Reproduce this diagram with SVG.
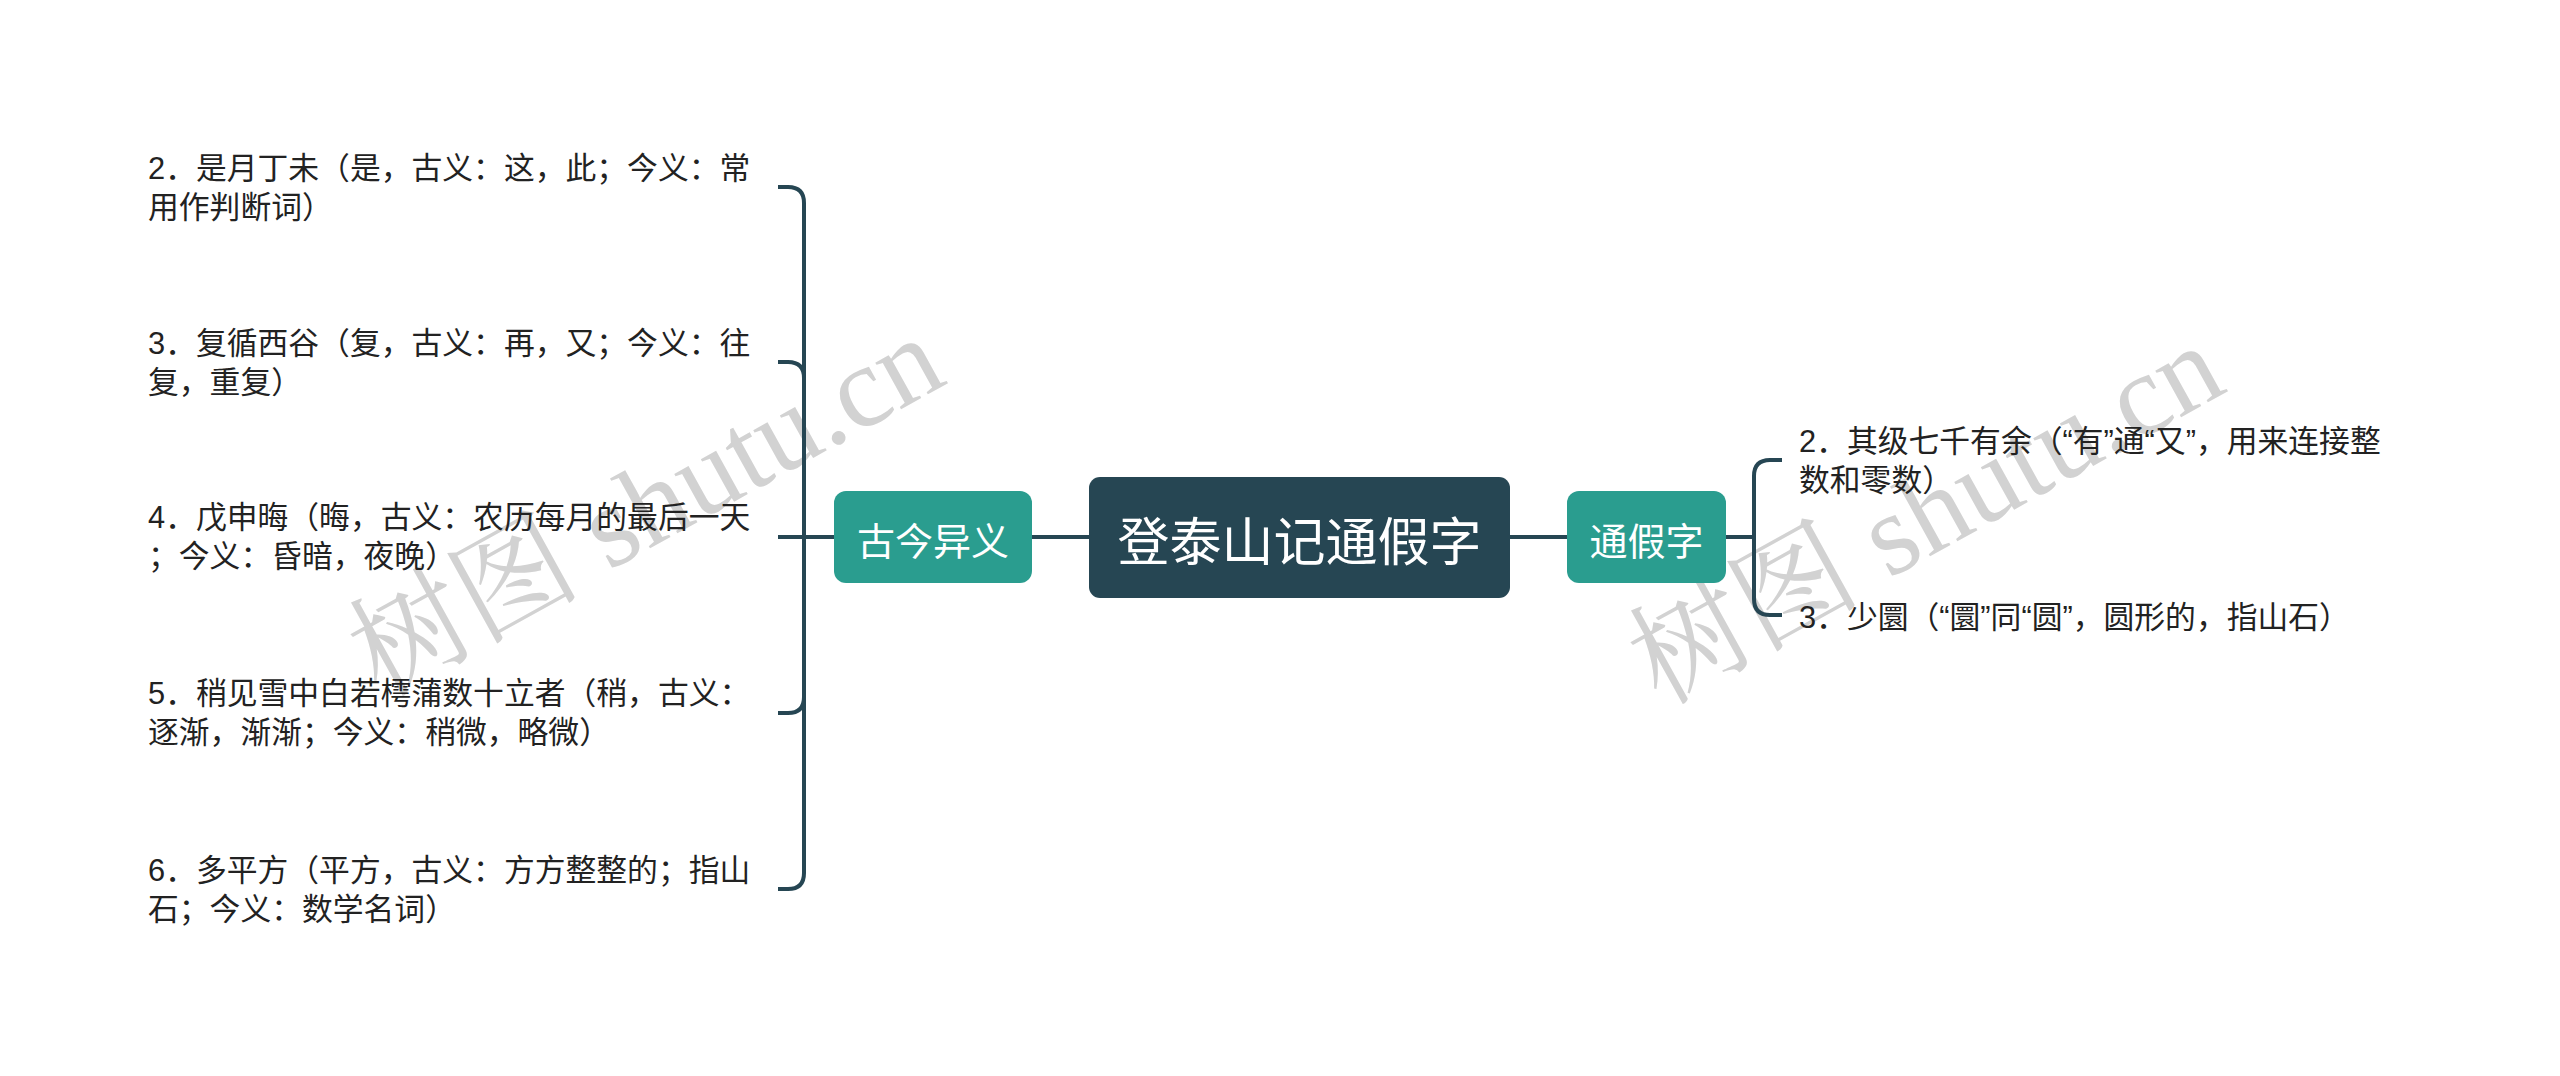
<svg xmlns="http://www.w3.org/2000/svg" width="2560" height="1076" viewBox="0 0 2560 1076">
<style>
.bg{fill:#ffffff}
.conn{fill:none;stroke:#264653;stroke-width:4;stroke-linecap:butt}
.root{fill:#264653}
.main{fill:#2a9d8f}
.rt{font-family:"Noto Sans CJK SC",sans-serif;font-size:52px;fill:#ffffff}
.mt{font-family:"Noto Sans CJK SC",sans-serif;font-size:38px;fill:#ffffff}
.leaf{font-family:"Liberation Sans","Noto Sans CJK SC",sans-serif;font-size:30.8px;fill:#222222}
.wm{font-family:"Liberation Serif","Noto Serif CJK SC","Noto Sans CJK SC",serif;font-size:116px;fill:#d2d2d2}
</style>
<rect class="bg" x="0" y="0" width="2560" height="1076"/>
<g id="watermarks">
<text class="wm" x="0" y="0" text-anchor="middle" dominant-baseline="central" transform="translate(646 506) rotate(-29)">树图 shutu.cn</text>
<text class="wm" x="0" y="0" text-anchor="middle" dominant-baseline="central" transform="translate(1926 514) rotate(-29)">树图 shutu.cn</text>
</g>
<g id="connectors">
<path class="conn" d="M1032 537H1089"/>
<path class="conn" d="M1510 537H1567"/>
<path class="conn" d="M834 537H804"/>
<path class="conn" d="M804 537V203Q804 187 788 187H778"/>
<path class="conn" d="M804 537V378Q804 362 788 362H778"/>
<path class="conn" d="M804 537H778"/>
<path class="conn" d="M804 537V697Q804 713 788 713H778"/>
<path class="conn" d="M804 537V873Q804 889 788 889H778"/>
<path class="conn" d="M1726 537H1754"/>
<path class="conn" d="M1754 537V476Q1754 460 1770 460H1782"/>
<path class="conn" d="M1754 537V599Q1754 615 1770 615H1782"/>
</g>
<g id="root">
<rect class="root" x="1089" y="477" width="421" height="121" rx="11"/>
<text class="rt" x="1299.5" y="538" text-anchor="middle" dominant-baseline="central">登泰山记通假字</text>
</g>
<g id="gujin">
<rect class="main" x="834" y="491" width="198" height="92" rx="12"/>
<text class="mt" x="933" y="538" text-anchor="middle" dominant-baseline="central">古今异义</text>
</g>
<g id="tongjia">
<rect class="main" x="1567" y="491" width="159" height="92" rx="12"/>
<text class="mt" x="1646.5" y="538" text-anchor="middle" dominant-baseline="central">通假字</text>
</g>
<g id="item-l2">
<text class="leaf" x="148" dominant-baseline="central"><tspan x="148" y="168">2．是月丁未（是，古义：这，此；今义：常</tspan><tspan x="148" y="207">用作判断词）</tspan></text>
</g>
<g id="item-l3">
<text class="leaf" x="148" dominant-baseline="central"><tspan x="148" y="343">3．复循西谷（复，古义：再，又；今义：往</tspan><tspan x="148" y="382">复，重复）</tspan></text>
</g>
<g id="item-l4">
<text class="leaf" x="148" dominant-baseline="central"><tspan x="148" y="517">4．戊申晦（晦，古义：农历每月的最后一天</tspan><tspan x="148" y="556">；今义：昏暗，夜晚）</tspan></text>
</g>
<g id="item-l5">
<text class="leaf" x="148" dominant-baseline="central"><tspan x="148" y="693">5．稍见雪中白若樗蒲数十立者（稍，古义：</tspan><tspan x="148" y="732">逐渐，渐渐；今义：稍微，略微）</tspan></text>
</g>
<g id="item-l6">
<text class="leaf" x="148" dominant-baseline="central"><tspan x="148" y="870">6．多平方（平方，古义：方方整整的；指山</tspan><tspan x="148" y="909">石；今义：数学名词）</tspan></text>
</g>
<g id="item-r2">
<text class="leaf" x="1799" dominant-baseline="central"><tspan x="1799" y="441">2．其级七千有余（“有”通“又”，用来连接整</tspan><tspan x="1799" y="480">数和零数）</tspan></text>
</g>
<g id="item-r3">
<text class="leaf" x="1799" y="617" dominant-baseline="central">3．少圜（“圜”同“圆”，圆形的，指山石）</text>
</g>
</svg>
